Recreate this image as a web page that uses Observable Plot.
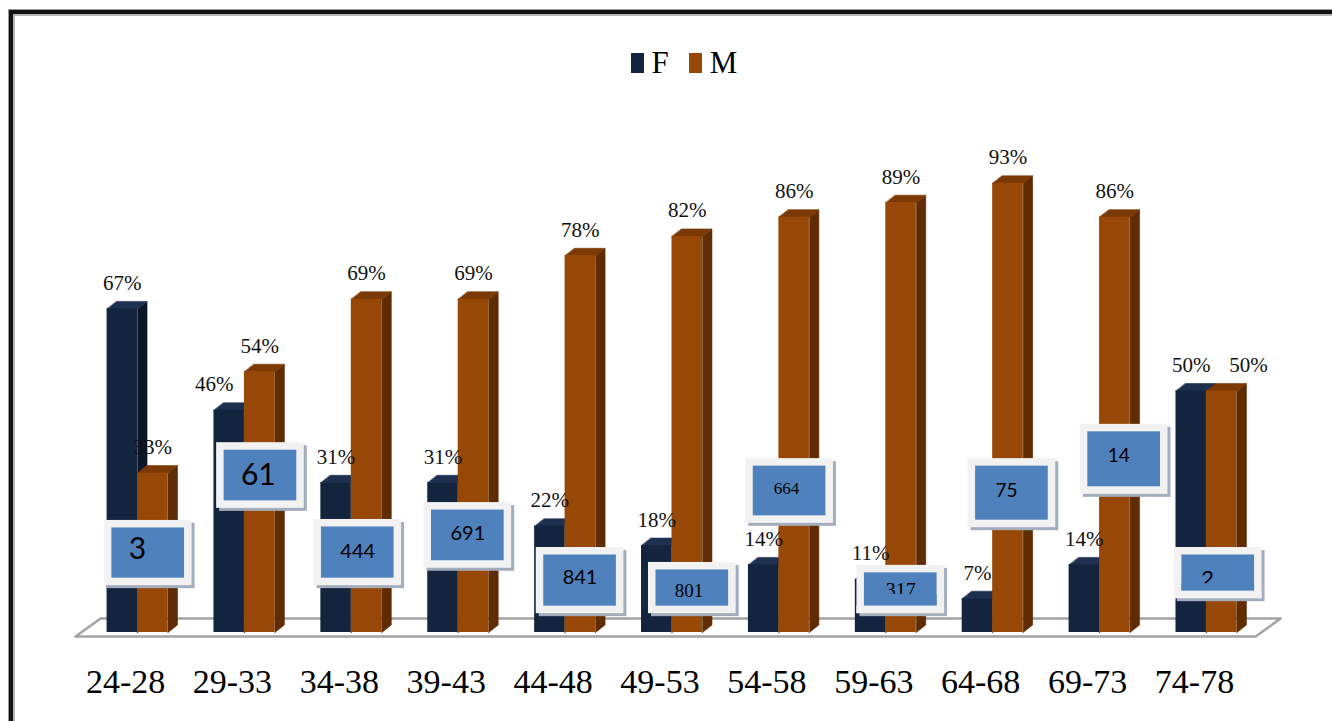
<!DOCTYPE html>
<html>
<head>
<meta charset="utf-8">
<script src="https://cdn.jsdelivr.net/npm/d3@7"></script>
<script src="https://cdn.jsdelivr.net/npm/@observablehq/plot@0.6"></script>
<style>
  body { margin: 0; background: #fff; }
  #wrap { position: relative; width: 1332px; height: 721px; overflow: hidden; background: #fff; }
  #frame { position: absolute; left: 9px; top: 10px; width: 1400px; height: 800px;
           border-left: 4px solid #111; border-top: 4px solid #111;
           box-shadow: -1px -1px 0 #9a9a9a, inset 2px 2px 0 #b5b5b5; }
  #legend { position: absolute; top: 47px; left: 18px; width: 1332px; display: flex; justify-content: center;
            font-family: "Liberation Serif", "Times New Roman", serif; font-size: 31px; line-height: 31px; color: #000; }
  #legend .item { white-space: nowrap; }
  #legend .sw { display: inline-block; width: 13px; height: 20px; margin-right: 8px; vertical-align: baseline; }
  #legend .gap { display: inline-block; width: 20px; }
  #chart { position: absolute; left: 0; top: 90px; }
</style>
</head>
<body>
<div id="wrap">
  <div id="frame"></div>
  <div id="legend"></div>
  <div id="chart"></div>
</div>
<script>
// ---- data ----
const categories = ["24-28","29-33","34-38","39-43","44-48","49-53","54-58","59-63","64-68","69-73","74-78"];
const seriesNames = ["F", "M"];
const femalePct = [67, 46, 31, 31, 22, 18, 14, 11, 7, 14, 50];
const malePct   = [33, 54, 69, 69, 78, 82, 86, 89, 93, 86, 50];
const counts    = [3, 61, 444, 691, 841, 801, 664, 317, 75, 14, 2];

// ---- styling / layout (kept apart from the data) ----
const colors = {
  F: {front: "#13243f", side: "#0b1629", top: "#1d3050"},
  M: {front: "#974706", side: "#5f2c03", top: "#7b3905"}
};
const BAR = 0.285, DX = 0.089, DY = 1.55;   // bar width & 3-D depth (x units, y %)
const labelNudge = {"29-33": {F: -0.14}, "74-78": {M: 0.25}};
const boxLayout = [
  {top: 23.2, bottom: 9.7,  shift: 0.10, tx: -0.10, ty: 0.8,  size: 30, serif: false},
  {top: 39.3, bottom: 25.7, shift: 0.15, tx: -0.02, ty: 0,    size: 30, serif: false},
  {top: 23.4, bottom: 9.7,  shift: 0.06, tx: 0,     ty: 0.2,  size: 20, serif: false},
  {top: 26.9, bottom: 13.3, shift: 0.09, tx: 0,     ty: 0.4,  size: 20, serif: false},
  {top: 17.6, bottom: 3.9,  shift: 0.14, tx: 0,     ty: 0.6,  size: 20, serif: false},
  {top: 14.5, bottom: 3.9,  shift: 0.19, tx: -0.03, ty: -0.6, size: 19, serif: true},
  {top: 36.0, bottom: 22.6, shift: 0.10, tx: -0.03, ty: 0.6,  size: 17, serif: true},
  {top: 13.9, bottom: 3.9,  shift: 0.14, tx: 0,     ty: -0.2, size: 20, serif: true, cut: 7.9},
  {top: 36.0, bottom: 21.7, shift: 0.18, tx: -0.05, ty: 0.4,  size: 19, serif: false},
  {top: 43.1, bottom: 28.6, shift: 0.23, tx: -0.05, ty: 0.8,  size: 19, serif: false},
  {top: 17.6, bottom: 7.0,  shift: 0.11, tx: -0.10, ty: -1.2, size: 22, serif: false, cut: 10.1}
];
const SERIF = "Liberation Serif, Times New Roman, serif";
const SANS = "Lato, Liberation Sans, sans-serif";

// ---- legend (HTML) ----
const legend = document.getElementById("legend");
legend.innerHTML = seriesNames.map((s, k) =>
  `<span class="item"><span class="sw" style="background:${colors[s].front}"></span>${s}</span>` +
  (k < seriesNames.length - 1 ? '<span class="gap"></span>' : "")).join("");

// ---- derived tables ----
const bars = [];
categories.forEach((c, i) => {
  bars.push({i, cat: c, s: "F", v: femalePct[i], x1: i - BAR, x2: i});
  bars.push({i, cat: c, s: "M", v: malePct[i], x1: i, x2: i + BAR});
});
const sidePts = s => bars.filter(b => b.s === s).flatMap(b => [
  {id: b.i, x: b.x2, y: 0}, {id: b.i, x: b.x2 + DX, y: DY},
  {id: b.i, x: b.x2 + DX, y: b.v + DY}, {id: b.i, x: b.x2, y: b.v}]);
const topPts = s => bars.filter(b => b.s === s).flatMap(b => [
  {id: b.i, x: b.x1, y: b.v}, {id: b.i, x: b.x2, y: b.v},
  {id: b.i, x: b.x2 + DX, y: b.v + DY}, {id: b.i, x: b.x1 + DX, y: b.v + DY}]);
const pctLabels = bars.map(b => ({
  xc: (b.x1 + b.x2) / 2 + ((labelNudge[b.cat] || {})[b.s] || 0),
  v: b.v, label: b.v + "%"
}));
const floorFront = -0.83, floorBack = 2.9, floorSkew = 0.234;
const xLo = -0.58, xHi = 10.46;
const floorPts = [
  {x: xLo, y: floorFront}, {x: xHi, y: floorFront},
  {x: xHi + floorSkew, y: floorBack}, {x: xLo + floorSkew, y: floorBack}];
const boxes = counts.map((n, i) => {
  const L = boxLayout[i];
  const cx = i + L.shift;
  return {i, n: String(n), x1: cx - 0.41, x2: cx + 0.41, y1: L.bottom, y2: L.top,
          tx: cx + L.tx, ty: (L.top + L.bottom) / 2 + L.ty, size: L.size, serif: L.serif, cut: L.cut};
});
const cuts = boxes.filter(b => b.cut != null);

const face = (pts, fill) => Plot.line(pts, {x: "x", y: "y", z: "id", curve: "linear-closed",
  fill, stroke: fill, strokeWidth: 0.6});

const chart = Plot.plot({
  width: 1332, height: 631,
  marginLeft: 72.9, marginRight: 61.9, marginTop: 59, marginBottom: 89,
  x: {domain: [-0.6, 10.6]},
  y: {domain: [0, 100], axis: null},
  style: {background: "transparent", color: "#000", overflow: "visible"},
  marks: [
    Plot.line(floorPts, {x: "x", y: "y", curve: "linear-closed", fill: "#fff", stroke: "#a3a3a3", strokeWidth: 2.5}),
    face(sidePts("F"), colors.F.side),
    face(sidePts("M"), colors.M.side),
    face(topPts("F"), colors.F.top),
    face(topPts("M"), colors.M.top),
    Plot.rect(bars.filter(b => b.s === "F"), {x1: "x1", x2: "x2", y1: 0, y2: "v", fill: colors.F.front}),
    Plot.rect(bars.filter(b => b.s === "M"), {x1: "x1", x2: "x2", y1: 0, y2: "v", fill: colors.M.front}),
    Plot.text(pctLabels, {x: "xc", y: "v", text: "label", dy: -19, lineAnchor: "bottom",
      fontSize: 21, fontFamily: SERIF, fill: "#111"}),
    // count boxes
    Plot.rect(boxes, {x1: "x1", x2: "x2", y1: "y1", y2: "y2", dx: 3, dy: 3, fill: "#a3adbd"}),
    Plot.rect(boxes, {x1: "x1", x2: "x2", y1: "y1", y2: "y2", fill: "#f2f2f2"}),
    Plot.rect(boxes, {x1: "x1", x2: "x2", y1: "y1", y2: "y2", inset: 7.5, fill: "#4f81bd"}),
    Plot.text(boxes.filter(b => !b.serif), {x: "tx", y: "ty", text: "n", fontSize: "size", fontFamily: SANS, fill: "#000"}),
    Plot.text(boxes.filter(b => b.serif), {x: "tx", y: "ty", text: "n", fontSize: "size", fontFamily: SERIF, fill: "#000"}),
    Plot.rect(cuts, {x1: "x1", x2: "x2", y1: "y1", y2: "cut", insetLeft: 7.5, insetRight: 7.5, insetBottom: 7.5, fill: "#4f81bd"}),
    Plot.rect(cuts, {x1: "x1", x2: "x2", y1: "y1", y2: "y1", insetTop: -7.5, fill: "#f2f2f2"}),
    Plot.axisX({ticks: d3.range(categories.length), tickFormat: i => categories[i], tickSize: 0,
      tickPadding: 36, dx: -12, fontSize: 34, fontFamily: SERIF, fill: "#000"})
  ]
});
document.getElementById("chart").appendChild(chart);
</script>
</body>
</html>
